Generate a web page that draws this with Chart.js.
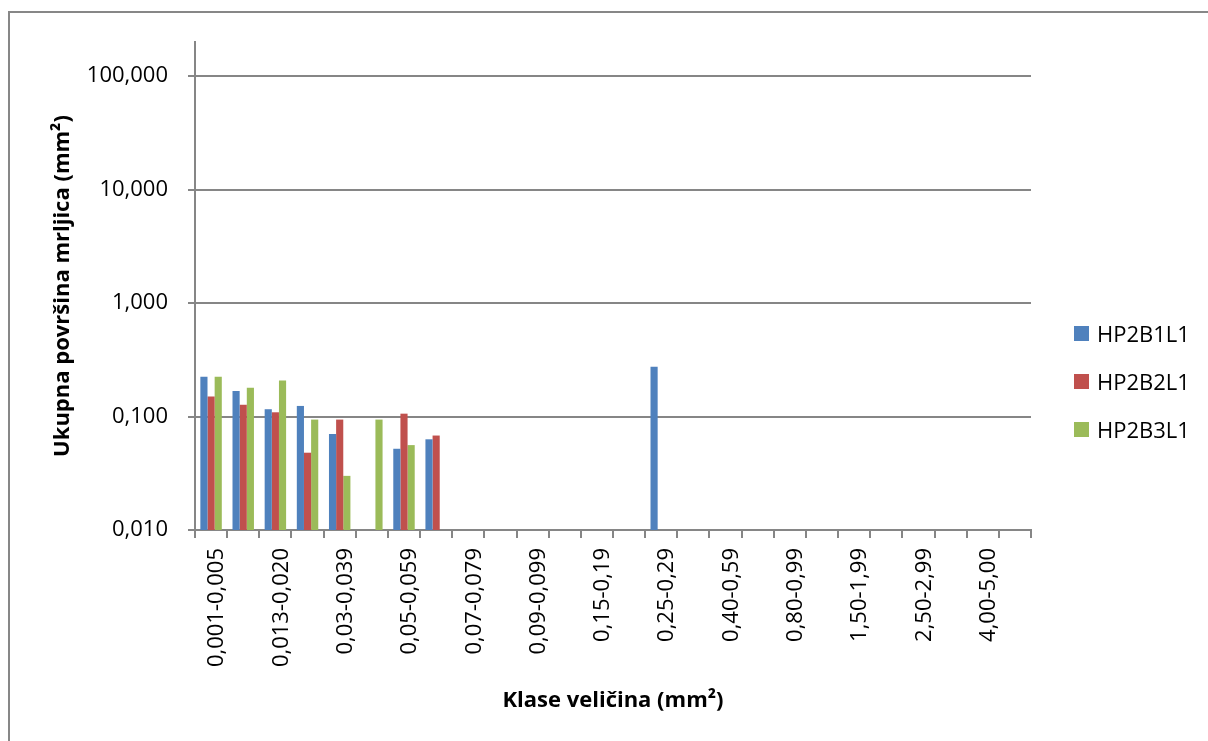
<!DOCTYPE html>
<html>
<head>
<meta charset="utf-8">
<script src="https://cdn.jsdelivr.net/npm/chart.js@4"></script>
<style>
    html, body { margin: 0; padding: 0; background: #fff; }
    #wrap { position: relative; width: 1208px; height: 741px; overflow: hidden; }
    #frame { position: absolute; left: 8px; top: 11px; width: 1400px; height: 900px; border: 2px solid #878787; }
    #chart { position: absolute; left: 0; top: 0; }
    #legend { position: absolute; left: 1074px; top: 309px; font-family: "Open Sans", sans-serif; font-size: 22px; color: #000; }
    .item { display: flex; align-items: center; height: 48px; }
    .swatch { width: 15px; height: 15px; margin-right: 8px; }
</style>
</head>
<body>
<div id="wrap">
    <div id="frame"></div>
    <canvas id="chart" width="1208" height="741"></canvas>
    <div id="legend"></div>
</div>
<script>
// DATA
const categories = ["0,001-0,005", "0,006-0,012", "0,013-0,020", "0,021-0,029", "0,03-0,039", "0,04-0,049",
    "0,05-0,059", "0,06-0,069", "0,07-0,079", "0,08-0,089", "0,09-0,099", "0,10-0,14", "0,15-0,19", "0,20-0,24",
    "0,25-0,29", "0,30-0,39", "0,40-0,59", "0,60-0,79", "0,80-0,99", "1,00-1,49", "1,50-1,99", "2,00-2,49",
    "2,50-2,99", "3,00-3,99", "4,00-5,00", ">5,00"];

const seriesNames = ["HP2B1L1", "HP2B2L1", "HP2B3L1"];
const seriesColors = ["#4F81BD", "#C0504D", "#9BBB59"];

const hp2b1l1 = [0.224, 0.168, 0.116, 0.124, 0.070, null, 0.052, 0.063, null, null, null, null, null, null,
    0.275, null, null, null, null, null, null, null, null, null, null, null];
const hp2b2l1 = [0.150, 0.127, 0.109, 0.048, 0.094, null, 0.106, 0.068, null, null, null, null, null, null,
    null, null, null, null, null, null, null, null, null, null, null, null];
const hp2b3l1 = [0.224, 0.179, 0.208, 0.094, 0.030, 0.094, 0.056, null, null, null, null, null, null, null,
    null, null, null, null, null, null, null, null, null, null, null, null];

const yTicks = [0.01, 0.1, 1, 10, 100];

const gridGray = "#868686";
const font = "'Open Sans', sans-serif";
const seriesData = [hp2b1l1, hp2b2l1, hp2b3l1];

const data = {
    labels: categories,
    datasets: seriesNames.map((name, i) => ({
        label: name,
        data: seriesData[i],
        backgroundColor: seriesColors[i],
        categoryPercentage: 0.667,
        barPercentage: 1,
    })),
};

const config = {
    type: "bar",
    data: data,
    options: {
        responsive: false,
        animation: false,
        layout: { padding: { left: 0, right: 177, top: 42, bottom: 0 } },
        plugins: {
            legend: { display: false },
            tooltip: { enabled: false },
        },
        scales: {
            x: {
                grid: { drawOnChartArea: false, drawTicks: true, tickLength: 8, color: gridGray, lineWidth: 2 },
                border: { color: gridGray, width: 2 },
                ticks: {
                    autoSkip: false,
                    maxRotation: 90,
                    minRotation: 90,
                    padding: 10,
                    labelOffset: 6,
                    color: "#000",
                    font: { family: font, size: 22 },
                    callback: function (val, i) {
                        return i % 2 === 0 ? this.getLabelForValue(val) : "";
                    },
                },
                title: {
                    display: true,
                    text: "Klase veličina (mm²)",
                    color: "#000",
                    font: { family: font, size: 22, weight: "bold" },
                    padding: { top: 0, bottom: 27 },
                },
                afterFit: (scale) => { scale.height = 211; },
            },
            y: {
                type: "logarithmic",
                min: 0.01,
                max: 200,
                grid: { color: gridGray, lineWidth: 2, tickLength: 7 },
                border: { color: gridGray, width: 2 },
                afterBuildTicks: (scale) => { scale.ticks = yTicks.map((v) => ({ value: v })); },
                ticks: {
                    padding: 20,
                    color: "#000",
                    font: { family: font, size: 22 },
                    callback: (v) => Number(v).toFixed(3).replace(".", ","),
                },
                title: {
                    display: true,
                    text: "Ukupna površina mrljica (mm²)",
                    color: "#000",
                    font: { family: font, size: 22, weight: "bold" },
                    padding: { top: 50, bottom: 0 },
                },
                afterFit: (scale) => { scale.width = 195; },
            },
        },
    },
};

const myChart = new Chart(document.getElementById("chart").getContext("2d"), config);

// LEGEND (built from the datasets)
const legend = document.getElementById("legend");
data.datasets.forEach((ds) => {
    const item = document.createElement("div");
    item.className = "item";
    const sw = document.createElement("span");
    sw.className = "swatch";
    sw.style.background = ds.backgroundColor;
    const txt = document.createElement("span");
    txt.textContent = ds.label;
    item.appendChild(sw);
    item.appendChild(txt);
    legend.appendChild(item);
});
</script>
</body>
</html>
